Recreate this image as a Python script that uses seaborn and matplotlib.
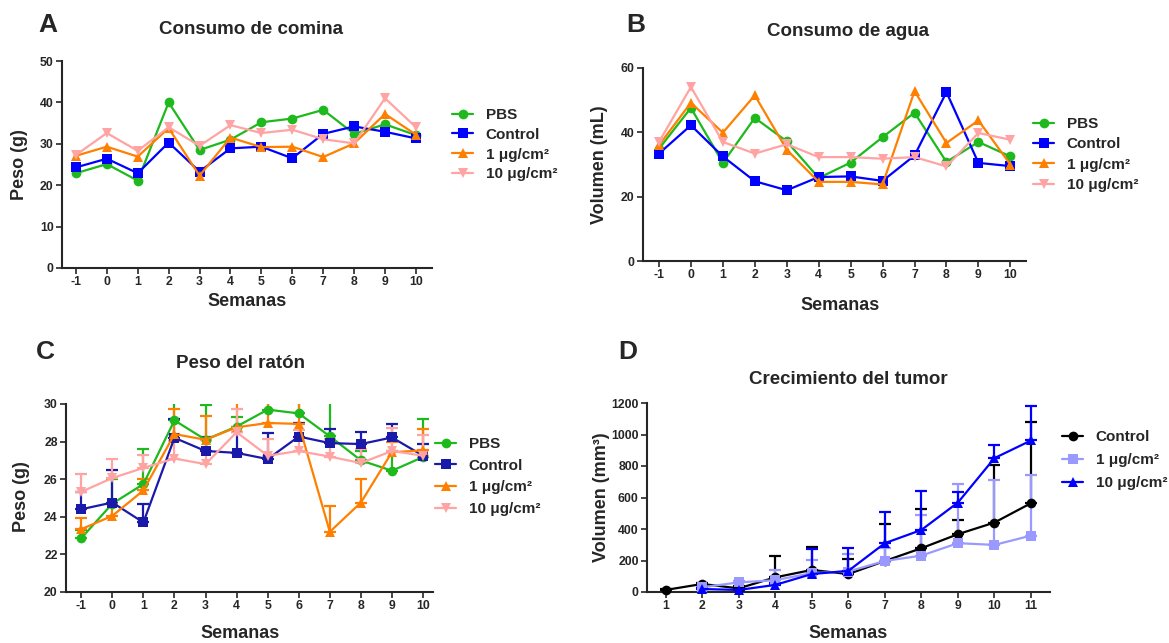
import pandas as pd
import seaborn as sns
import matplotlib.pyplot as plt

# ---- datos ----
semanas = [-1, 0, 1, 2, 3, 4, 5, 6, 7, 8, 9, 10]
semanas_tumor = [1, 2, 3, 4, 5, 6, 7, 8, 9, 10, 11]
grupos = ["PBS", "Control", "1 μg/cm²", "10 μg/cm²"]
grupos_tumor = ["Control", "1 μg/cm²", "10 μg/cm²"]

# A: consumo de comina (g)
comina_pbs = [22.9, 25.1, 21.1, 40.0, 28.5, 31.0, 35.2, 36.1, 38.2, 32.4, 34.7, 32.1]
comina_control = [24.3, 26.4, 22.9, 30.3, 23.3, 28.9, 29.3, 26.5, 32.4, 34.2, 32.9, 31.3]
comina_1ug = [27.1, 29.3, 26.9, 33.8, 22.3, 31.5, 29.2, 29.3, 26.8, 30.1, 37.2, 32.2]
comina_10ug = [27.3, 32.6, 28.3, 34.0, 29.5, 34.5, 32.6, 33.4, 31.1, 30.1, 41.0, 34.0]

# B: consumo de agua (mL)
agua_pbs = [34.9, 47.6, 30.5, 44.5, 37.2, 25.8, 30.6, 38.5, 46.1, 30.8, 37.0, 32.5]
agua_control = [33.4, 42.2, 32.5, 24.8, 22.0, 26.1, 26.3, 24.9, 32.8, 52.5, 30.5, 29.5]
agua_1ug = [36.0, 49.2, 39.9, 51.5, 34.6, 24.6, 24.6, 23.8, 52.8, 36.7, 43.7, 30.0]
agua_10ug = [37.0, 54.1, 37.0, 33.4, 36.3, 32.3, 32.3, 31.8, 32.3, 29.4, 39.8, 37.7]

# C: peso del raton (g) media y error
peso_pbs = [22.86, 24.7, 25.74, 29.13, 28.1, 28.8, 29.7, 29.5, 28.28, 27.0, 26.45, 27.18]
peso_pbs_err = [0.45, 1.3, 1.86, 1.5, 1.85, 0.5, 0.8, 0.7, 2.7, 0.5, 1.05, 2.02]
peso_control = [24.4, 24.76, 23.7, 28.2, 27.5, 27.4, 27.07, 28.27, 27.92, 27.87, 28.22, 27.25]
peso_control_err = [0.9, 1.74, 0.97, 1.0, 0.72, 1.1, 1.38, 0.73, 0.75, 0.63, 0.71, 0.62]
peso_1ug = [23.34, 24.05, 25.4, 28.4, 28.1, 28.76, 28.99, 28.94, 23.2, 24.76, 27.44, 27.53]
peso_1ug_err = [0.59, 0.65, 0.6, 1.33, 1.24, 1.7, 1.6, 1.6, 1.38, 1.24, 0.56, 1.16]
peso_10ug = [25.33, 26.06, 26.6, 27.1, 26.8, 28.5, 27.25, 27.5, 27.2, 26.86, 27.5, 27.25]
peso_10ug_err = [0.94, 1.04, 0.7, 0.95, 1.3, 1.23, 0.88, 1.13, 0.93, 0.74, 1.2, 1.08]

# D: crecimiento del tumor (mm3), 1 y 10 ug desde la semana 2
tumor_control = [13, 51, 23, 93, 140, 114, 197, 278, 367, 441, 564]
tumor_control_err = [7, 9, 12, 138, 148, 96, 235, 248, 90, 367, 515]
tumor_1ug = [30, 61, 75, 120, 130, 197, 231, 310, 299, 358]
tumor_1ug_err = [10, 9, 65, 83, 112, 83, 259, 377, 413, 386]
tumor_10ug = [19, 13, 45, 114, 134, 310, 394, 568, 850, 962]
tumor_10ug_err = [6, 7, 15, 156, 144, 197, 250, 64, 85, 221]

colores = {"PBS": "#1DB91D", "Control": "#0000FF", "1 μg/cm²": "#FF8000", "10 μg/cm²": "#FFA3A3"}
colores_c = {"PBS": "#1DB91D", "Control": "#1A1AAA", "1 μg/cm²": "#FF8000", "10 μg/cm²": "#FFA3A3"}
colores_d = {"Control": "#000000", "1 μg/cm²": "#9999FF", "10 μg/cm²": "#0000FF"}
marcadores = {"PBS": "o", "Control": "s", "1 μg/cm²": "^", "10 μg/cm²": "v"}
marcadores_d = {"Control": "o", "1 μg/cm²": "s", "10 μg/cm²": "^"}

sns.set_style("ticks")
plt.rcParams["font.family"] = ["Liberation Sans", "DejaVu Sans"]
plt.rcParams["font.weight"] = "bold"
plt.rcParams["axes.linewidth"] = 1.5
plt.rcParams["axes.unicode_minus"] = False

W, H = 1169, 643
fig = plt.figure(figsize=(W / 100, H / 100), dpi=100)


def caja(x0, y0, x1, y1):
    return [x0 / W, 1 - y1 / H, (x1 - x0) / W, (y1 - y0) / H]


def tabla(x, series, nombres):
    filas = []
    for nombre, valores in zip(nombres, series):
        for xi, v in zip(x[len(x) - len(valores):], valores):
            filas.append({"semana": xi, "valor": v, "grupo": nombre})
    return pd.DataFrame(filas)


def panel(rect, df, orden, pal, mk, xlim, ylim, yticks, xticks):
    ax = fig.add_axes(caja(*rect))
    sns.lineplot(data=df, x="semana", y="valor", hue="grupo", style="grupo",
                 hue_order=orden, style_order=orden, palette=pal, markers=mk,
                 dashes=False, markersize=7, markeredgewidth=0, linewidth=1.6,
                 ax=ax, clip_on=False, zorder=3)
    ax.set_xlim(*xlim)
    ax.set_ylim(*ylim)
    ax.set_yticks(yticks)
    ax.set_xticks(xticks)
    ax.set_xlabel("")
    ax.set_ylabel("")
    ax.tick_params(direction="out", length=4, width=1.2, labelsize=8.8, pad=2)
    for t in ax.get_xticklabels() + ax.get_yticklabels():
        t.set_fontweight("bold")
    sns.despine(ax=ax)
    return ax


def barras(ax, x, medias, errores, color):
    x = x[len(x) - len(medias):]
    ax.errorbar(x, medias, yerr=[[0] * len(errores), errores], fmt="none",
                ecolor=color, elinewidth=1.6, capsize=4, capthick=1.6, zorder=2)


def leyenda(ax, x, y, sep):
    sns.move_legend(ax, "upper left", bbox_to_anchor=(x / W, 1 - y / H),
                    bbox_transform=fig.transFigure, frameon=False, title="",
                    fontsize=11, handlelength=1.4, handletextpad=0.8,
                    labelspacing=sep, borderpad=0, borderaxespad=0)
    for t in ax.get_legend().get_texts():
        t.set_fontweight("bold")


def textos(letra, lx, ly, titulo, tx, ty, xlab, xx, xy, ylab, yx, yy):
    fig.text(lx / W, 1 - ly / H, letra, fontsize=19, fontweight="bold", ha="center", va="center")
    fig.text(tx / W, 1 - ty / H, titulo, fontsize=13.5, fontweight="bold", ha="center", va="center")
    fig.text(xx / W, 1 - xy / H, xlab, fontsize=13, fontweight="bold", ha="center", va="center")
    fig.text(yx / W, 1 - yy / H, ylab, fontsize=13, fontweight="bold", ha="center", va="center",
             rotation=90)


# A
df_a = tabla(semanas, [comina_pbs, comina_control, comina_1ug, comina_10ug], grupos)
ax_a = panel((62, 61, 432, 268), df_a, grupos, colores, marcadores,
             (-1.45, 10.52), (0, 50), range(0, 51, 10), semanas)
leyenda(ax_a, 452, 108, 0.38)
textos("A", 48, 25, "Consumo de comina", 251, 30, "Semanas", 247, 301, "Peso (g)", 19, 165)

# B
df_b = tabla(semanas, [agua_pbs, agua_control, agua_1ug, agua_10ug], grupos)
ax_b = panel((643, 68, 1026, 261), df_b, grupos, colores, marcadores,
             (-1.5, 10.49), (0, 60), [0, 20, 40, 60], semanas)
leyenda(ax_b, 1033, 117, 0.42)
textos("B", 636, 25, "Consumo de agua", 848, 31, "Semanas", 840, 305, "Volumen (mL)", 600, 165)

# C
df_c = tabla(semanas, [peso_pbs, peso_control, peso_1ug, peso_10ug], grupos)
ax_c = panel((66, 404, 433, 592), df_c, grupos, colores_c, marcadores,
             (-1.49, 10.32), (20, 30), range(20, 31, 2), semanas)
for medias, errores, g in zip([peso_pbs, peso_control, peso_1ug, peso_10ug],
                              [peso_pbs_err, peso_control_err, peso_1ug_err, peso_10ug_err], grupos):
    barras(ax_c, semanas, medias, errores, colores_c[g])
leyenda(ax_c, 435, 437, 0.5)
textos("C", 45, 352, "Peso del ratón", 240, 363, "Semanas", 240, 633, "Peso (g)", 22, 497)

# D
df_d = tabla(semanas_tumor, [tumor_control, tumor_1ug, tumor_10ug], grupos_tumor)
ax_d = panel((647, 403, 1050, 592), df_d, grupos_tumor, colores_d, marcadores_d,
             (0.49, 11.52), (0, 1200), range(0, 1201, 200), semanas_tumor)
for medias, errores, g in zip([tumor_control, tumor_1ug, tumor_10ug],
                              [tumor_control_err, tumor_1ug_err, tumor_10ug_err], grupos_tumor):
    barras(ax_d, semanas_tumor, medias, errores, colores_d[g])
leyenda(ax_d, 1062, 430, 0.6)
textos("D", 628, 352, "Crecimiento del tumor", 848, 380, "Semanas", 848, 633, "Volumen (mm³)", 602, 497)

fig.savefig("out.png", dpi=100)
